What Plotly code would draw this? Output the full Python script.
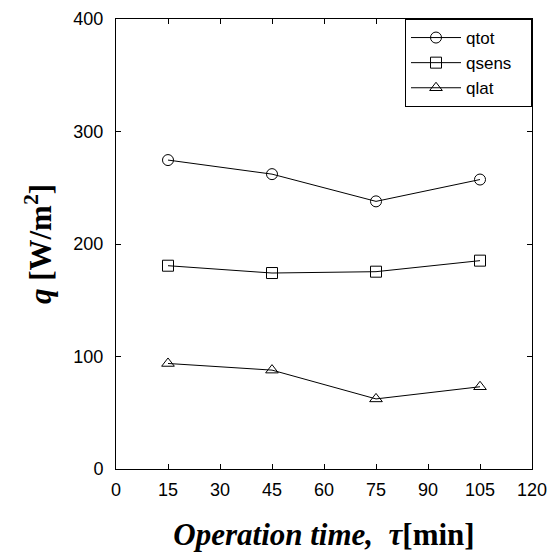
import plotly.graph_objects as go

time_min = [15, 45, 75, 105]
q_tot = [274.6, 262.1, 237.9, 257.3]
q_sens = [180.7, 174.2, 175.4, 185.2]
q_lat = [93.8, 87.9, 62.3, 73.1]

x_ticks = [0, 15, 30, 45, 60, 75, 90, 105, 120]
y_ticks = [0, 100, 200, 300, 400]

pad = "\u00a0\u00a0\u00a0"
fig = go.Figure()
series = [("qtot", q_tot, "circle-open"), ("qsens", q_sens, "square-open"), ("qlat", q_lat, "triangle-up-open")]
for name, vals, sym in series:
    fig.add_trace(go.Scatter(
        x=time_min, y=vals, name=name + pad, mode="lines+markers",
        line=dict(color="black", width=1),
        marker=dict(symbol=sym, size=11, color="black", line=dict(width=1, color="black")),
    ))

axis_common = dict(showgrid=False, zeroline=False, showline=True, linecolor="black", linewidth=1,
                   mirror="ticks", ticks="inside", ticklen=5, tickcolor="black", automargin=False,
                   tickfont=dict(family="Liberation Sans, Arial, sans-serif", size=18, color="black"))

fig.update_xaxes(range=[0, 120], tickvals=x_ticks, ticktext=[str(v) for v in x_ticks],
                 ticklabelstandoff=4,
                 title=dict(text="<b><i>Operation time,  τ</i>[min]</b>",
                            font=dict(family="Liberation Serif, Times New Roman, serif", size=31, color="black"),
                            standoff=24),
                 **axis_common)
fig.update_yaxes(range=[0, 400], tickvals=y_ticks, ticktext=[str(v) for v in y_ticks],
                 ticklabelstandoff=8,
                 title=dict(text="<b><i>q</i> [W/m<sup>2</sup>]</b>",
                            font=dict(family="Liberation Serif, Times New Roman, serif", size=31, color="black"),
                            standoff=12),
                 **axis_common)

fig.update_layout(
    width=554, height=553,
    margin=dict(l=116, r=22, t=19, b=84),
    plot_bgcolor="white", paper_bgcolor="white",
    legend=dict(x=1, y=1, xanchor="right", yanchor="top",
                bordercolor="black", borderwidth=1, bgcolor="white",
                font=dict(family="Liberation Sans, Arial, sans-serif", size=17, color="black"),
                tracegroupgap=0, itemwidth=50),
    showlegend=True,
)

fig.write_html("out.html", config={"displayModeBar": False},
               post_script="document.body.style.margin='0';document.body.style.overflow='hidden';")
